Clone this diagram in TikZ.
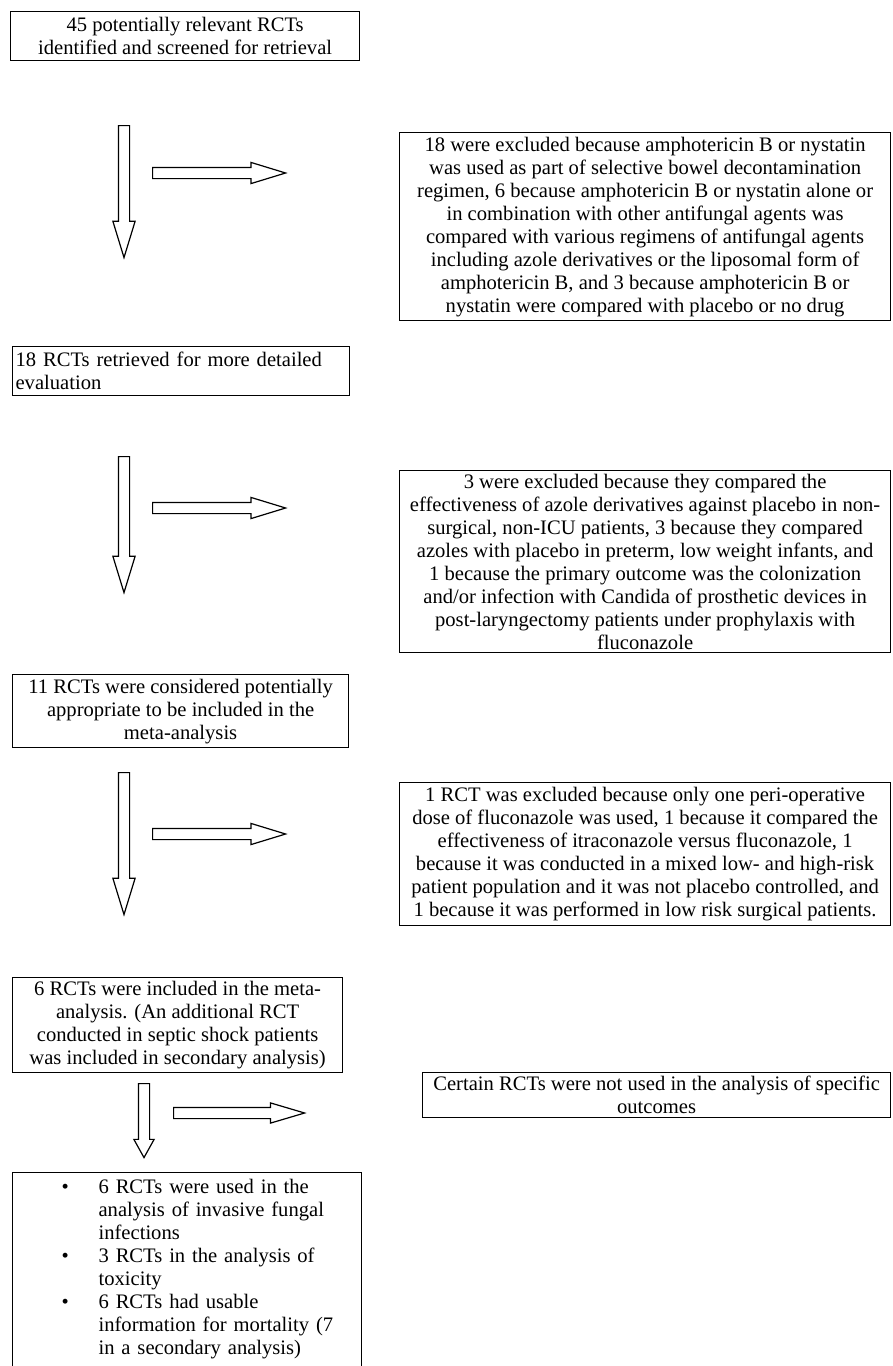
\documentclass[tikz,border=0pt]{standalone}
\usepackage{fontspec}
\setmainfont{Liberation Serif}
\usetikzlibrary{shapes.arrows}
\begin{document}
\begin{tikzpicture}[x=1pt,y=-1pt,
  box/.style={draw, line width=1.2pt, anchor=north west, inner xsep=3pt, inner ysep=1pt, align=center, font=\fontsize{20.6}{23}\selectfont},
  downarrow/.style={single arrow, draw, line width=1.2pt, shape border rotate=270, anchor=tail, inner sep=5pt, minimum width=21pt, single arrow head extend=5.5pt},
  rightarrow/.style={single arrow, draw, line width=1.2pt, anchor=tail, inner sep=5pt, minimum width=20pt, single arrow head extend=5pt}]
\useasboundingbox (0,0) rectangle (892,1366);
\clip (0,0) rectangle (892,1366);
\path node[box, minimum width=349pt, minimum height=49pt] (screened) at (10,11) {45 potentially relevant RCTs\\identified and screened for retrieval}
node[box, minimum width=491pt, minimum height=188pt] (excl1) at (399,132) {18 were excluded because amphotericin B or nystatin\\was used as part of selective bowel decontamination\\regimen, 6 because amphotericin B or nystatin alone or\\in combination with other antifungal agents was\\compared with various regimens of antifungal agents\\including azole derivatives or the liposomal form of\\amphotericin B, and 3 because amphotericin B or\\nystatin were compared with placebo or no drug}
node[box, align=left, text width=331pt, minimum height=49pt] (retrieved) at (12,346) {18 RCTs retrieved for more detailed\\evaluation}
node[box, minimum width=491pt, minimum height=182pt] (excl2) at (399,470) {3 were excluded because they compared the\\effectiveness of azole derivatives against placebo in non-\\surgical, non-ICU patients, 3 because they compared\\azoles with placebo in preterm, low weight infants, and\\1 because the primary outcome was the colonization\\and/or infection with Candida of prosthetic devices in\\post-laryngectomy patients under prophylaxis with\\fluconazole}
node[box, minimum width=336pt, minimum height=73pt] (considered) at (12,674) {11 RCTs were considered potentially\\appropriate to be included in the\\meta-analysis}
node[box, minimum width=491pt, minimum height=143pt] (excl3) at (399,782) {1 RCT was excluded because only one peri-operative\\dose of fluconazole was used, 1 because it compared the\\effectiveness of itraconazole versus fluconazole, 1\\because it was conducted in a mixed low- and high-risk\\patient population and it was not placebo controlled, and\\1 because it was performed in low risk surgical patients.}
node[box, minimum width=330pt, minimum height=95pt] (included) at (12,977) {6 RCTs were included in the meta-\\analysis. (An additional RCT\\conducted in septic shock patients\\was included in secondary analysis)}
node[box, minimum width=468pt, minimum height=45pt] (notused) at (422,1072) {Certain RCTs were not used in the analysis of specific\\outcomes}
node[box, align=left, text width=343pt, inner ysep=7pt] (used) at (12,1172) {\hspace*{46pt}\makebox[37pt][l]{\textbullet}6 RCTs were used in the\\\hspace*{83pt}analysis of invasive fungal\\\hspace*{83pt}infections\\\hspace*{46pt}\makebox[37pt][l]{\textbullet}3 RCTs in the analysis of\\\hspace*{83pt}toxicity\\\hspace*{46pt}\makebox[37pt][l]{\textbullet}6 RCTs had usable\\\hspace*{83pt}information for mortality (7\\\hspace*{83pt}in a secondary analysis)\\\mbox{}\\\mbox{}}
;
\path node[downarrow, minimum height=132pt, single arrow tip angle=34] (down1) at (124,125) {}
node[rightarrow, minimum height=133pt, single arrow tip angle=34] (right1) at (152,173) {}
node[downarrow, minimum height=136pt, single arrow tip angle=34] (down2) at (124,456) {}
node[rightarrow, minimum height=133pt, single arrow tip angle=34] (right2) at (152,508) {}
node[downarrow, minimum height=142pt, single arrow tip angle=34] (down3) at (124,772) {}
node[rightarrow, minimum height=133pt, single arrow tip angle=34] (right3) at (152,834) {}
node[downarrow, minimum height=74pt, minimum width=19pt, single arrow head extend=4.5pt, single arrow tip angle=58] (down4) at (144,1083) {}
node[rightarrow, minimum height=131pt, minimum width=19pt, single arrow head extend=4.5pt, single arrow tip angle=33] (right4) at (173,1113) {}
;
\end{tikzpicture}
\end{document}
